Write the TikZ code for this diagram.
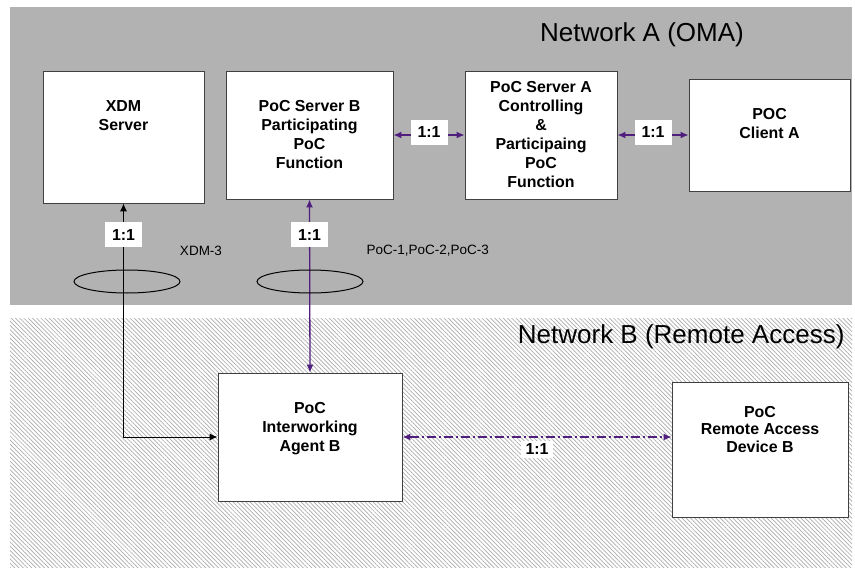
\documentclass[tikz,border=0pt]{standalone}
\usepackage{fontspec}
\setmainfont{Liberation Sans}
\usetikzlibrary{positioning,arrows.meta,patterns.meta}
\definecolor{netgray}{RGB}{178,178,178}
\definecolor{hatchgray}{RGB}{172,172,172}
\definecolor{linkpurple}{RGB}{80,30,125}
\tikzset{
  unit/.style={draw=black!75, fill=white, line width=0.9pt},
  unittext/.style={font=\bfseries\fontsize{15.9}{19}\selectfont, align=center, anchor=north, inner sep=0pt},
  ratio/.style={fill=white, text=black, font=\bfseries\fontsize{15.9}{19}\selectfont, minimum width=37pt, minimum height=25pt, inner sep=0pt},
  link/.style={linkpurple, line width=1.3pt, {Latex[length=8pt,width=7pt]}-{Latex[length=8pt,width=7pt]}},
}

\begin{document}
\begin{tikzpicture}[x=1pt,y=-1pt]
  \useasboundingbox (0,0) rectangle (855,570);
  \fill[netgray] (10,7) rectangle (852,305);
  \fill[white] (10,318) rectangle (852,567);
  \fill[pattern={Lines[angle=-45,distance=3pt,line width=0.7pt]}, pattern color=hatchgray] (10,318) rectangle (852,567);
  \node[font=\fontsize{26}{30}\selectfont] (neta) at (642,35) {Network A (OMA)};
  \node[font=\fontsize{26}{30}\selectfont, anchor=east] (netb) at (848,337) {Network B (Remote Access)};

  \node[unit, minimum width=161pt, minimum height=132pt] (xdm)   at (123.5,137) {};
  \node[unit, minimum width=167pt, minimum height=128pt] (srvb)  at (309.5,135) {};
  \node[unit, minimum width=152pt, minimum height=128pt] (srva)  at (541,135)   {};
  \node[unit, minimum width=161pt, minimum height=112pt] (clia)  at (769.5,135) {};
  \node[unit, minimum width=184pt, minimum height=128pt] (iwab)  at (310,437)   {};
  \node[unit, minimum width=176pt, minimum height=135pt] (rdevb) at (760,449.5) {};

  \node[unittext, below=29.5pt of xdm.north]  (xdmtext)  {XDM\\Server};
  \node[unittext, below=29.5pt of srvb.north] (srvbtext) {PoC Server B\\Participating\\PoC\\Function};
  \node[unittext, below=10.5pt of srva.north] (srvatext) {PoC Server A\\Controlling\\\&\\Participaing\\PoC\\Function};
  \node[unittext, below=29.5pt of clia.north] (cliatext) {POC\\Client A};
  \node[unittext, below=29.5pt of iwab.north] (iwabtext) {PoC\\Interworking\\Agent B};
  \node[unittext, font=\bfseries\fontsize{15.9}{17.5}\selectfont, below=24.5pt of rdevb.north] (rdevbtext) {PoC\\Remote Access\\Device B};

  \draw[link] (srvb.east) -- node[ratio, yshift=3pt] {1:1} (srva.west);
  \draw[link] (srva.east) -- node[ratio, yshift=3pt] {1:1} (clia.west);
  \draw[link] (srvb.south) -- node[ratio, pos=0.204] {1:1} (iwab.north);
  \draw[link, black, line width=1pt] (xdm.south) -- node[ratio, pos=0.135] {1:1} (xdm.south |- iwab.west) -- (iwab.west);
  \draw[link, dash pattern=on 9pt off 3pt on 2pt off 3pt] (iwab.east) -- node[ratio, below=3pt, minimum width=32pt, minimum height=17pt] {1:1} (iwab.east -| rdevb.west);

  \draw[line width=1pt] (127,281.5) ellipse [x radius=53, y radius=11.5];
  \draw[line width=1pt] (310,281.5) ellipse [x radius=53, y radius=11.5];
  \node[font=\fontsize{13.5}{16}\selectfont] (xdmref) at (201,251) {XDM-3};
  \node[font=\fontsize{13.5}{16}\selectfont, anchor=west] (pocref) at (363,251) {PoC-1,PoC-2,PoC-3};
\end{tikzpicture}
\end{document}
